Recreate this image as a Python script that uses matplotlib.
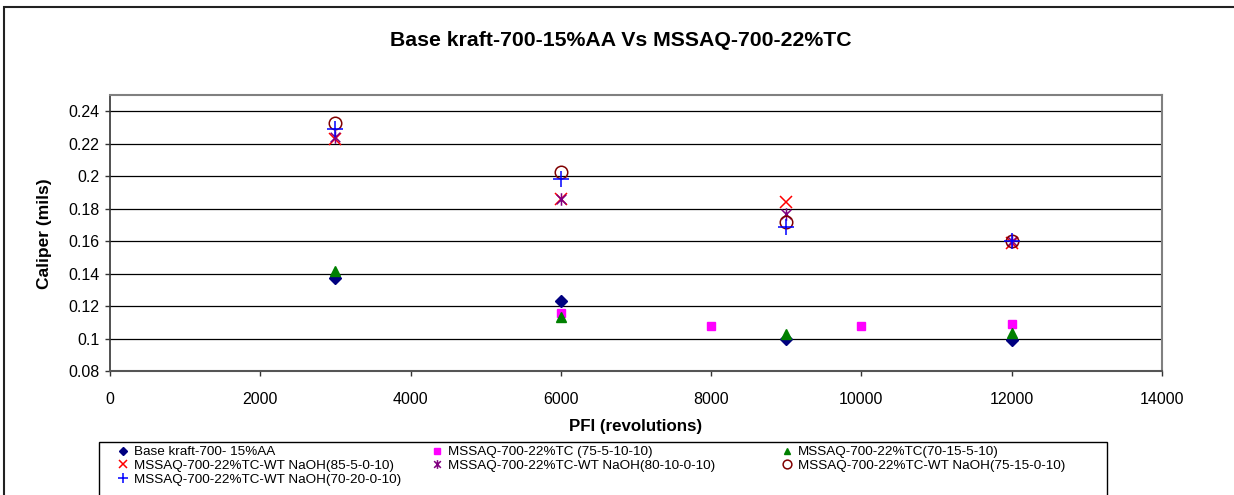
import numpy as np
import matplotlib.pyplot as plt
from matplotlib.path import Path
from matplotlib.patches import Rectangle

plt.rcParams['font.family'] = ['Liberation Sans', 'DejaVu Sans']

# data
base_x = [3000, 6000, 9000, 12000]
base_y = [0.137, 0.123, 0.100, 0.099]

tc75_x = [6000, 8000, 10000, 12000]
tc75_y = [0.116, 0.108, 0.108, 0.109]

tc70_x = [3000, 6000, 9000, 12000]
tc70_y = [0.1415, 0.113, 0.103, 0.1035]

wt85_x = [3000, 6000, 9000, 12000]
wt85_y = [0.223, 0.186, 0.184, 0.159]

wt80_x = [3000, 6000, 9000, 12000]
wt80_y = [0.224, 0.186, 0.177, 0.160]

wt75_x = [3000, 6000, 9000, 12000]
wt75_y = [0.2326, 0.2025, 0.172, 0.160]

wt70_x = [3000, 6000, 9000, 12000]
wt70_y = [0.229, 0.198, 0.169, 0.160]

labels = ['Base kraft-700- 15%AA',
          'MSSAQ-700-22%TC (75-5-10-10)',
          'MSSAQ-700-22%TC(70-15-5-10)',
          'MSSAQ-700-22%TC-WT NaOH(85-5-0-10)',
          'MSSAQ-700-22%TC-WT NaOH(80-10-0-10)',
          'MSSAQ-700-22%TC-WT NaOH(75-15-0-10)',
          'MSSAQ-700-22%TC-WT NaOH(70-20-0-10)']

# excel style star: an x with a vertical bar through it
star = Path([(-1, -1), (1, 1), (-1, 1), (1, -1), (0, -1.3), (0, 1.3)],
            [Path.MOVETO, Path.LINETO, Path.MOVETO, Path.LINETO, Path.MOVETO, Path.LINETO])

fig = plt.figure(figsize=(12.34, 4.95), dpi=100)
ax = fig.add_axes([110/1234, 1 - 371/495, 1052/1234, 276/495])

h1, = ax.plot(base_x, base_y, ls='none', marker='D', ms=6, color='#000080', label=labels[0])
h2, = ax.plot(tc75_x, tc75_y, ls='none', marker='s', ms=5.5, color='#FF00FF', label=labels[1])
h3, = ax.plot(tc70_x, tc70_y, ls='none', marker='^', ms=7, color='#008000', label=labels[2])
h4, = ax.plot(wt85_x, wt85_y, ls='none', marker='x', ms=9, mew=1.1, color='#FF0000', label=labels[3])
h5, = ax.plot(wt80_x, wt80_y, ls='none', marker=star, ms=9, mew=1.1, color='#800080', label=labels[4])
h6, = ax.plot(wt75_x, wt75_y, ls='none', marker='o', ms=9, mew=1.1, mfc='none', mec='#800000', label=labels[5])
h7, = ax.plot(wt70_x, wt70_y, ls='none', marker='+', ms=11, mew=1.1, color='#0000FF', label=labels[6])

ax.set_xlim(0, 14000)
ax.set_ylim(0.08, 0.25)
ax.set_xticks(np.arange(0, 14001, 2000))
ax.set_yticks(np.arange(0.08, 0.2401, 0.02))
ax.set_yticklabels(['0.08', '0.1', '0.12', '0.14', '0.16', '0.18', '0.2', '0.22', '0.24'])
ax.yaxis.grid(True, color='black', lw=0.9)
ax.set_axisbelow(True)
ax.tick_params(axis='both', labelsize=11.5, direction='out', length=3.8, width=1, colors='#333333', labelcolor='black')
ax.tick_params(axis='x', pad=11)
ax.tick_params(axis='y', pad=4)

for side in ['top', 'right']:
    ax.spines[side].set_color('#808080')
    ax.spines[side].set_linewidth(1.5)
ax.spines['left'].set_color('#333333')
ax.spines['bottom'].set_color('#555555')
ax.spines['left'].set_linewidth(1.2)
ax.spines['bottom'].set_linewidth(1.5)

fig.text(621/1234, 1 - 40/495, 'Base kraft-700-15%AA Vs MSSAQ-700-22%TC',
         ha='center', va='center', fontsize=15.3, fontweight='bold')
fig.text(636/1234, 1 - 427/495, 'PFI (revolutions)', ha='center', va='center',
         fontsize=12.2, fontweight='bold')
fig.text(45/1234, 1 - 234/495, 'Caliper (mils)', ha='center', va='center',
         rotation=90, fontsize=12.5, fontweight='bold')

# legend laid out in three columns like excel (row-wise fill)
columns = [([h1, h4, h7], 116), ([h2, h5], 430), ([h3, h6], 780)]
for handles, x0 in columns:
    leg = fig.legend(handles=handles, labels=[h.get_label() for h in handles],
                     loc='upper left', bbox_to_anchor=(x0/1234, 1 - 446/495),
                     fontsize=9.7, frameon=False, markerscale=0.7,
                     handlelength=1.0, handletextpad=0.33, labelspacing=0.09,
                     borderpad=0, borderaxespad=0)

# legend box, drawn on its own since it is wider than the entries
fig.patches.append(Rectangle((99/1234, -0.1), 1008/1234, 0.1 + 53/495, transform=fig.transFigure,
                             fill=False, ec='black', lw=1.0, clip_on=False))

# outer chart border (cut off at the right and bottom)
fig.patches.append(Rectangle((4/1234, -0.2), 1.2, 1.2 - 7/495, transform=fig.transFigure,
                             fill=False, ec='#222222', lw=1.5, clip_on=False))

fig.savefig('out.png', dpi=100)
